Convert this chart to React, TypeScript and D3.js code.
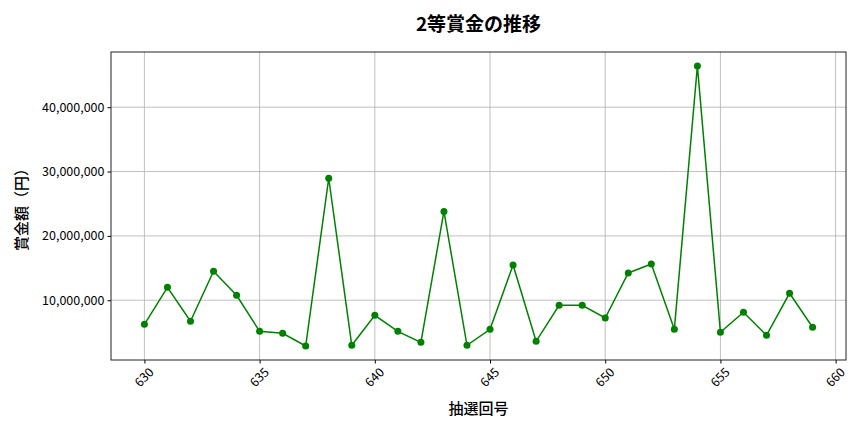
import * as d3 from "d3";
import { useEffect, useRef } from "react";

// 抽選回号
const draws = [
  630, 631, 632, 633, 634, 635, 636, 637, 638, 639,
  640, 641, 642, 643, 644, 645, 646, 647, 648, 649,
  650, 651, 652, 653, 654, 655, 656, 657, 658, 659,
];

// 2等賞金（円）
const prizes = [
  6260000, 12000000, 6730000, 14500000, 10770000, 5170000, 4860000, 2890000, 28960000, 3000000,
  7660000, 5170000, 3460000, 23800000, 3000000, 5480000, 15480000, 3620000, 9210000, 9210000,
  7240000, 14240000, 15640000, 5480000, 46400000, 5020000, 8130000, 4550000, 11080000, 5800000,
];

const xTicks = [630, 635, 640, 645, 650, 655, 660];
const yTicks = [10000000, 20000000, 30000000, 40000000];

const FONT = "'Noto Sans CJK JP', 'Noto Sans', sans-serif";

export default function App() {
  const ref = useRef<SVGSVGElement>(null);

  useEffect(() => {
    if (!ref.current) return;
    const svg = d3.select(ref.current);
    svg.selectAll("*").remove();

    const width = 864;
    const height = 432;
    const margin = { top: 52, right: 18, bottom: 72, left: 111 };
    const innerWidth = width - margin.left - margin.right;
    const innerHeight = height - margin.top - margin.bottom;

    const data = draws.map((d, i) => ({ draw: d, prize: prizes[i] }));

    // matplotlib style 5% padding
    const [xMin, xMax] = d3.extent(draws) as [number, number];
    const [yMin, yMax] = d3.extent(prizes) as [number, number];
    const xPad = (xMax - xMin) * 0.05;
    const yPad = (yMax - yMin) * 0.05;

    const x = d3
      .scaleLinear()
      .domain([xMin - xPad, xMax + xPad])
      .range([0, innerWidth]);

    const y = d3
      .scaleLinear()
      .domain([yMin - yPad, yMax + yPad])
      .range([innerHeight, 0]);

    const g = svg
      .append("g")
      .attr("transform", `translate(${margin.left},${margin.top})`);

    // grid
    g.append("g")
      .selectAll("line")
      .data(xTicks)
      .enter()
      .append("line")
      .attr("x1", (d) => x(d))
      .attr("x2", (d) => x(d))
      .attr("y1", 0)
      .attr("y2", innerHeight)
      .attr("stroke", "#b0b0b0")
      .attr("stroke-width", 0.8);

    g.append("g")
      .selectAll("line")
      .data(yTicks)
      .enter()
      .append("line")
      .attr("x1", 0)
      .attr("x2", innerWidth)
      .attr("y1", (d) => y(d))
      .attr("y2", (d) => y(d))
      .attr("stroke", "#b0b0b0")
      .attr("stroke-width", 0.8);

    // line + markers
    const line = d3
      .line<{ draw: number; prize: number }>()
      .x((d) => x(d.draw))
      .y((d) => y(d.prize));

    g.append("path")
      .datum(data)
      .attr("fill", "none")
      .attr("stroke", "green")
      .attr("stroke-width", 1.5)
      .attr("d", line);

    g.selectAll("circle")
      .data(data)
      .enter()
      .append("circle")
      .attr("cx", (d) => x(d.draw))
      .attr("cy", (d) => y(d.prize))
      .attr("r", 3.5)
      .attr("fill", "green");

    // axes
    const xAxis = g
      .append("g")
      .attr("transform", `translate(0,${innerHeight})`)
      .call(
        d3.axisBottom(x).tickValues(xTicks).tickSize(3.5).tickSizeOuter(0).tickFormat(d3.format("d"))
      );
    xAxis.select(".domain").remove();
    xAxis
      .selectAll("text")
      .style("font-family", FONT)
      .style("font-size", "12.5px")
      .attr("fill", "#000")
      .attr("text-anchor", "middle")
      .attr("y", 0)
      .attr("dy", 0)
      .attr("transform", "translate(0,18) rotate(-45)")
      .attr("dominant-baseline", "middle");

    const yAxis = g
      .append("g")
      .call(d3.axisLeft(y).tickValues(yTicks).tickSize(3.5).tickSizeOuter(0).tickFormat(d3.format(",")));
    yAxis.select(".domain").remove();
    yAxis
      .selectAll("text")
      .style("font-family", FONT)
      .style("font-size", "12.5px")
      .attr("fill", "#000");

    // frame
    g.append("rect")
      .attr("width", innerWidth)
      .attr("height", innerHeight)
      .attr("fill", "none")
      .attr("stroke", "#222")
      .attr("stroke-width", 1);

    // title & labels
    svg.append("text")
      .attr("x", margin.left + innerWidth / 2)
      .attr("y", 31)
      .attr("text-anchor", "middle")
      .style("font-family", FONT)
      .style("font-size", "19px")
      .style("font-weight", "bold")
      .text("2等賞金の推移");

    svg.append("text")
      .attr("x", margin.left + innerWidth / 2)
      .attr("y", 414)
      .attr("text-anchor", "middle")
      .style("font-family", FONT)
      .style("font-size", "15px")
      .style("font-weight", 500)
      .text("抽選回号");

    svg.append("text")
      .attr("transform", `translate(27,${margin.top + innerHeight / 2}) rotate(-90)`)
      .attr("text-anchor", "middle")
      .style("font-family", FONT)
      .style("font-size", "15px")
      .style("font-weight", 500)
      .text("賞金額（円）");
  }, []);

  return (
    <svg
      ref={ref}
      width={864}
      height={432}
      style={{ position: "absolute", left: 0, top: 0, background: "#fff" }}
    />
  );
}
